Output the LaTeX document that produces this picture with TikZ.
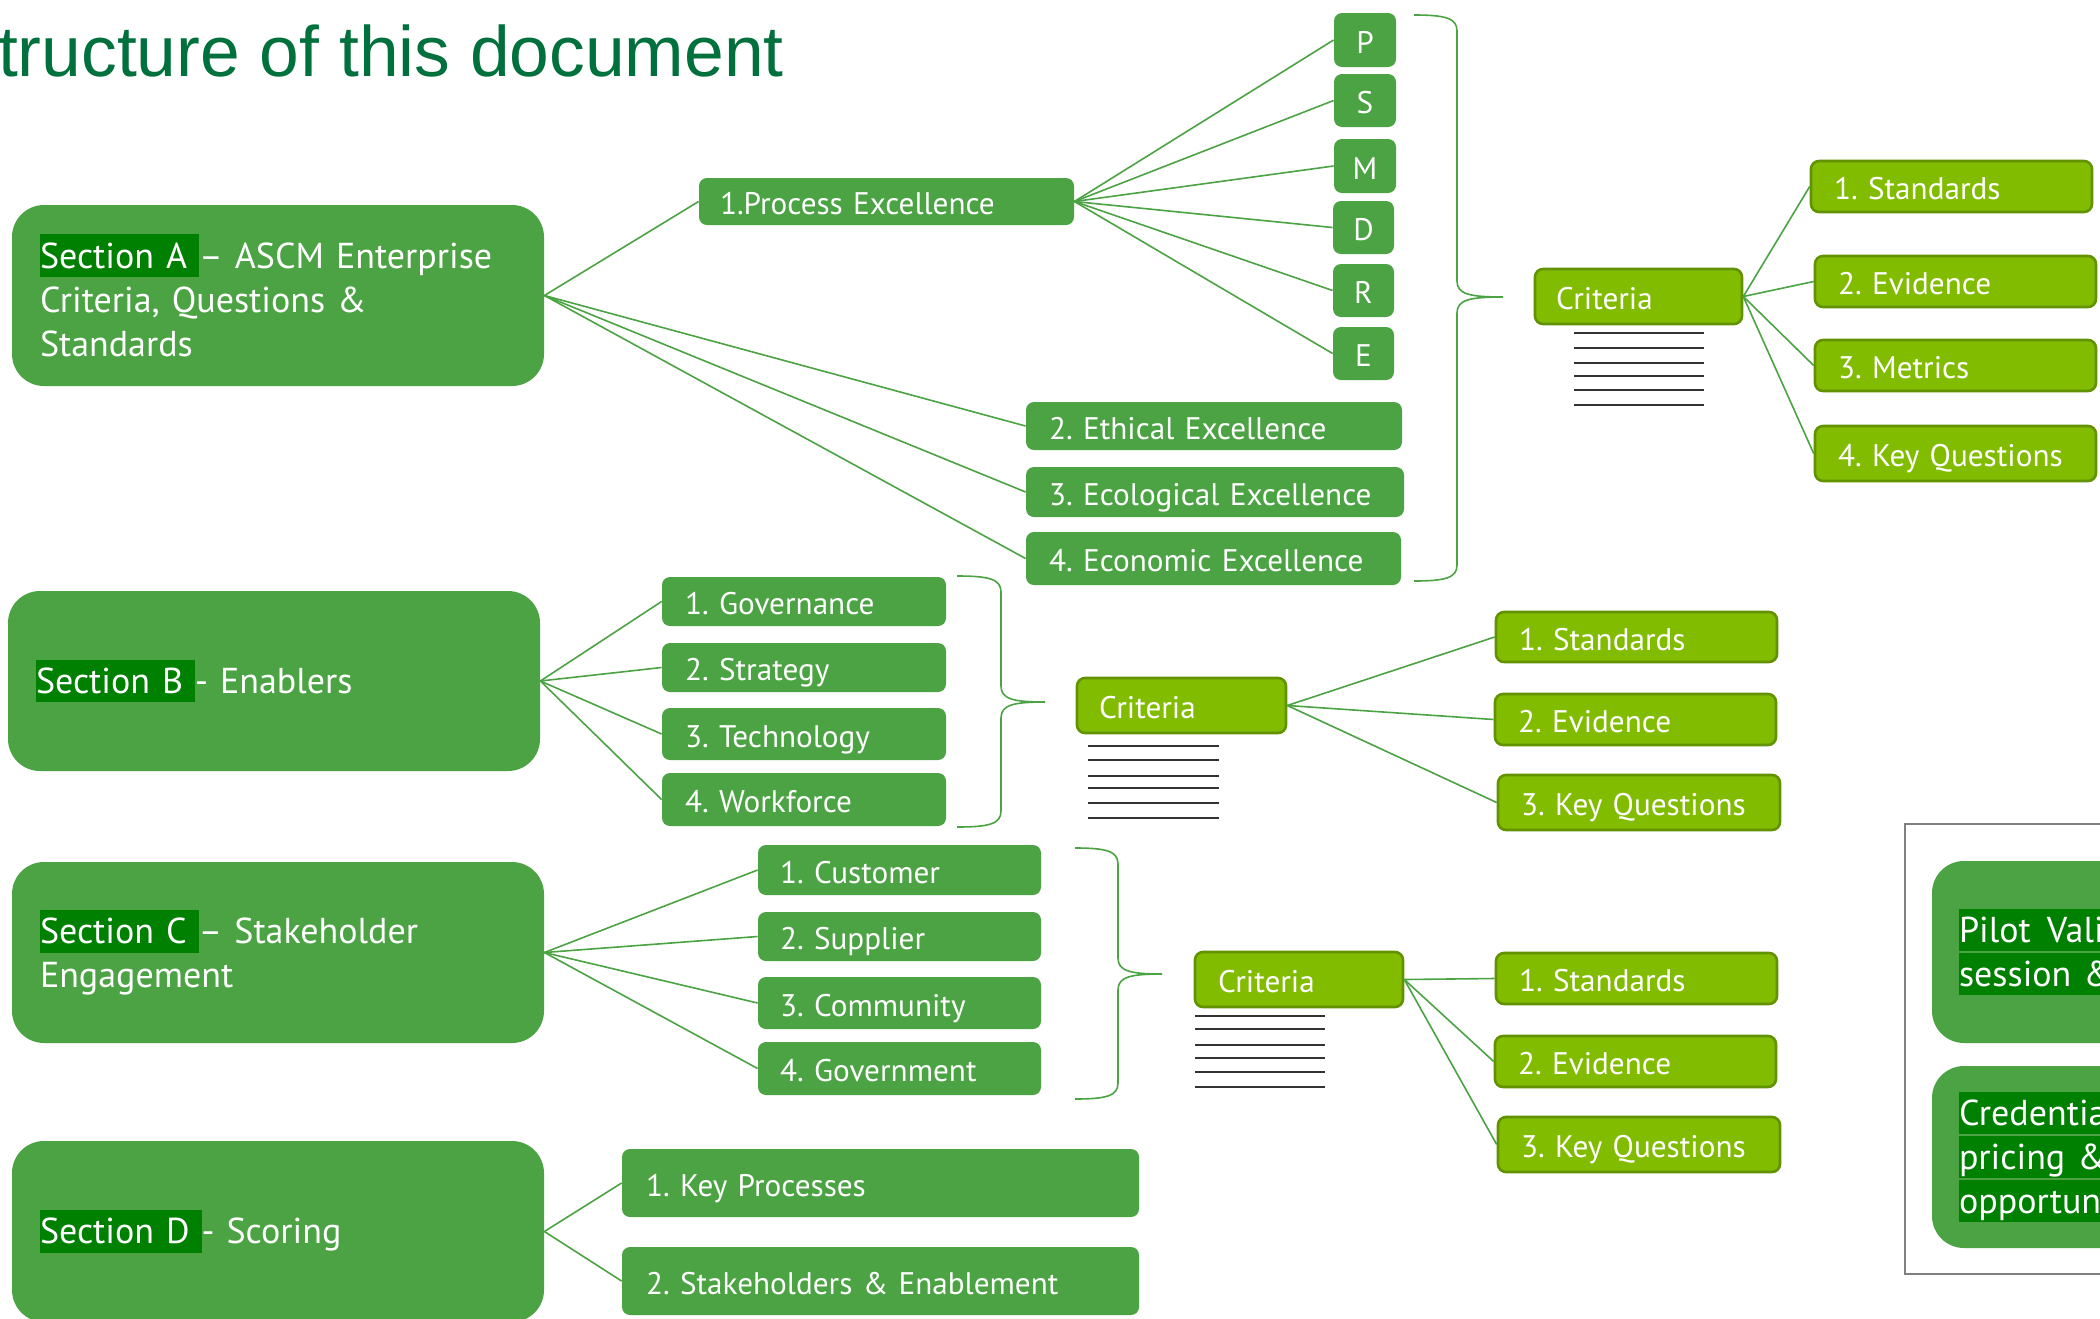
\documentclass[tikz,border=0pt]{standalone}
\usepackage{fontspec}
\setmainfont{PT Sans}[WordSpace=0.8]
\newfontfamily\titlefont{Liberation Sans}
\definecolor{midgreen}{RGB}{75,163,67}
\definecolor{litgreen}{RGB}{130,188,0}
\definecolor{litborder}{RGB}{98,146,0}
\definecolor{hlgreen}{RGB}{0,128,0}
\definecolor{titlegreen}{RGB}{0,112,60}
\definecolor{framegray}{RGB}{128,128,128}
\frenchspacing
\newcommand\hlbox[1]{{\setlength{\fboxsep}{0pt}\colorbox{hlgreen}{\rule[-0.25em]{0pt}{1.19em}#1}}}
\newcommand\gbx[8]{%
 \pgfmathsetmacro\gbW{(#5-#3)*0.5}%
 \pgfmathsetmacro\gbH{(#6-#4)*0.5}%
 \pgfmathsetmacro\gbT{(#5-#3-2*#7)*0.5}%
 \pgfmathsetmacro\gbS{#7*0.5}%
 \pgfmathsetmacro\gbX{(#3+#5)/2}%
 \pgfmathsetmacro\gbY{(#4+#6)/2}%
 \node[#1, minimum width=\gbW pt, minimum height=\gbH pt, text width=\gbT pt, inner xsep=\gbS pt, inner ysep=0pt] (#2) at (\gbX,\gbY) {#8};}
\tikzset{
 secbox/.style={rectangle, rounded corners=16pt, fill=midgreen, text=white, align=left, font=\fontsize{18}{22}\selectfont},
 gbox/.style={rectangle, rounded corners=4pt, fill=midgreen, text=white, align=left, font=\fontsize{15.6}{18}\selectfont, text height=13.2pt, text depth=0pt},
 letterbox/.style={gbox, align=center},
 critbox/.style={rectangle, rounded corners=4pt, fill=litgreen, draw=litborder, line width=1.3pt, text=white, align=left, font=\fontsize{15.6}{18}\selectfont, text height=13.2pt, text depth=0pt},
 link/.style={draw=midgreen, line width=0.8pt},
 bracestyle/.style={draw=midgreen, line width=0.8pt},
 ruleline/.style={draw=black!80, line width=1pt},
 framestyle/.style={draw=framegray, line width=1.3pt}
}
\begin{document}
\begin{tikzpicture}[x=0.5pt,y=-0.5pt]
\useasboundingbox (0,0) rectangle (2100,1318);
\clip (0,0) rectangle (2100,1318);
\fill[white] (0,0) rectangle (2100,1318);
% title
\node[anchor=base west, font=\titlefont\fontsize{35.7}{40}\selectfont, text=titlegreen, inner sep=0pt] (title) at (-50,76) {Structure of this document};
% sections
\gbx{secbox}{secA}{12}{205}{544}{386}{28}{\hlbox{Section A\ }– ASCM Enterprise\\Criteria, Questions \&\\Standards}
\gbx{secbox}{secB}{8}{591}{540}{771}{28}{\hlbox{Section B\ }- Enablers}
\gbx{secbox}{secC}{12}{862}{544}{1043}{28}{\hlbox{Section C\ }– Stakeholder\\Engagement}
\gbx{secbox}{secD}{12}{1141}{544}{1322}{28}{\hlbox{Section D\ }- Scoring}
% section A children
\gbx{gbox}{pe}{699}{178}{1074}{225}{21}{1.Process Excellence}
\gbx{letterbox}{lP}{1334}{13}{1396}{67}{0}{P}
\gbx{letterbox}{lS}{1334}{74}{1396}{127}{0}{S}
\gbx{letterbox}{lM}{1334}{139}{1396}{193}{0}{M}
\gbx{letterbox}{lD}{1333}{201}{1394}{254}{0}{D}
\gbx{letterbox}{lR}{1333}{264}{1394}{317}{0}{R}
\gbx{letterbox}{lE}{1333}{327}{1394}{380}{0}{E}
\gbx{gbox}{eth}{1026}{402}{1402}{450}{23}{2. Ethical Excellence}
\gbx{gbox}{eco}{1026}{467}{1404}{517}{23}{3. Ecological Excellence}
\gbx{gbox}{ecn}{1026}{532}{1401}{585}{23}{4. Economic Excellence}
\gbx{critbox}{critA}{1535}{269}{1742}{324}{21}{Criteria}
\gbx{critbox}{stdA}{1811}{161}{2092}{212}{23}{1. Standards}
\gbx{critbox}{evA}{1815}{256}{2096}{307}{23}{2. Evidence}
\gbx{critbox}{metA}{1815}{340}{2096}{391}{23}{3. Metrics}
\gbx{critbox}{kqA}{1815}{426}{2096}{481}{23}{4. Key Questions}
% section B children
\gbx{gbox}{gov}{662}{577}{946}{626}{23}{1. Governance}
\gbx{gbox}{str}{662}{643}{946}{692}{23}{2. Strategy}
\gbx{gbox}{tec}{662}{708}{946}{760}{23}{3. Technology}
\gbx{gbox}{wf}{662}{773}{946}{826}{23}{4. Workforce}
\gbx{critbox}{critB}{1077}{678}{1286}{733}{22}{Criteria}
\gbx{critbox}{stdB}{1496}{612}{1777}{662}{23}{1. Standards}
\gbx{critbox}{evB}{1495}{694}{1776}{745}{23}{2. Evidence}
\gbx{critbox}{kqB}{1498}{775}{1780}{830}{23}{3. Key Questions}
% section C children
\gbx{gbox}{cus}{758}{845}{1041}{895}{22}{1. Customer}
\gbx{gbox}{sup}{758}{912}{1041}{961}{22}{2. Supplier}
\gbx{gbox}{com}{758}{977}{1041}{1029}{22}{3. Community}
\gbx{gbox}{gvt}{758}{1042}{1041}{1095}{22}{4. Government}
\gbx{critbox}{critC}{1195}{952}{1403}{1007}{23}{Criteria}
\gbx{critbox}{stdC}{1496}{953}{1777}{1004}{23}{1. Standards}
\gbx{critbox}{evC}{1495}{1036}{1776}{1087}{23}{2. Evidence}
\gbx{critbox}{kqC}{1498}{1117}{1780}{1172}{23}{3. Key Questions}
% section D children
\gbx{gbox}{kp}{622}{1149}{1139}{1217}{24}{1. Key Processes}
\gbx{gbox}{se}{622}{1247}{1139}{1315}{24}{2. Stakeholders \& Enablement}
% right frame
\draw[framestyle] (1905,824) rectangle (2140,1274);
\gbx{secbox}{pilot}{1932}{861}{2400}{1043}{27}{\hlbox{Pilot\hspace{0.45em}Validation}\\\hlbox{session \&}}
\gbx{secbox}{cred}{1932}{1066}{2400}{1248}{27}{\hlbox{Credentials}\\\hlbox{pricing \&}\\\hlbox{opportunities}}
% connectors
\foreach \t in {pe,eth,eco,ecn} \draw[link] (secA.east) -- (\t.west);
\foreach \t in {lP,lS,lM,lD,lR,lE} \draw[link] (pe.east) -- (\t.west);
\foreach \t in {stdA,evA,metA,kqA} \draw[link] (critA.east) -- (\t.west);
\foreach \t in {gov,str,tec,wf} \draw[link] (secB.east) -- (\t.west);
\foreach \t in {stdB,evB,kqB} \draw[link] (critB.east) -- (\t.west);
\foreach \t in {cus,sup,com,gvt} \draw[link] (secC.east) -- (\t.west);
\foreach \t in {stdC,evC,kqC} \draw[link] (critC.east) -- (\t.west);
\foreach \t in {kp,se} \draw[link] (secD.east) -- (\t.west);
% braces
\coordinate (b1top) at (1414,15); \coordinate (b1tip) at (1503,297); \coordinate (b1bot) at (1414,581);
\draw[bracestyle] (b1top) .. controls (1445,15) and (1457,18) .. (1457,31) -- (1457,281) .. controls (1457,294) and (1469,297) .. (b1tip) .. controls (1469,297) and (1457,300) .. (1457,313) -- (1457,565) .. controls (1457,578) and (1445,581) .. (b1bot);
\coordinate (b2top) at (957,576); \coordinate (b2tip) at (1045,702); \coordinate (b2bot) at (957,827);
\draw[bracestyle] (b2top) .. controls (989,576) and (1001,579) .. (1001,592) -- (1001,686) .. controls (1001,699) and (1013,702) .. (b2tip) .. controls (1013,702) and (1001,705) .. (1001,718) -- (1001,811) .. controls (1001,824) and (989,827) .. (b2bot);
\coordinate (b3top) at (1075,848); \coordinate (b3tip) at (1162,974); \coordinate (b3bot) at (1075,1099);
\draw[bracestyle] (b3top) .. controls (1106,848) and (1118,851) .. (1118,864) -- (1118,958) .. controls (1118,971) and (1130,974) .. (b3tip) .. controls (1130,974) and (1118,977) .. (1118,990) -- (1118,1083) .. controls (1118,1096) and (1106,1099) .. (b3bot);
% criteria lines
\foreach \yy in {333,348,363,376,390,405} \draw[ruleline] (1574,\yy) -- (1704,\yy);
\foreach \yy in {746,760,776,788,803,818} \draw[ruleline] (1088,\yy) -- (1219,\yy);
\foreach \yy in {1016,1029,1045,1058,1072,1087} \draw[ruleline] (1195,\yy) -- (1325,\yy);
\end{tikzpicture}
\end{document}
